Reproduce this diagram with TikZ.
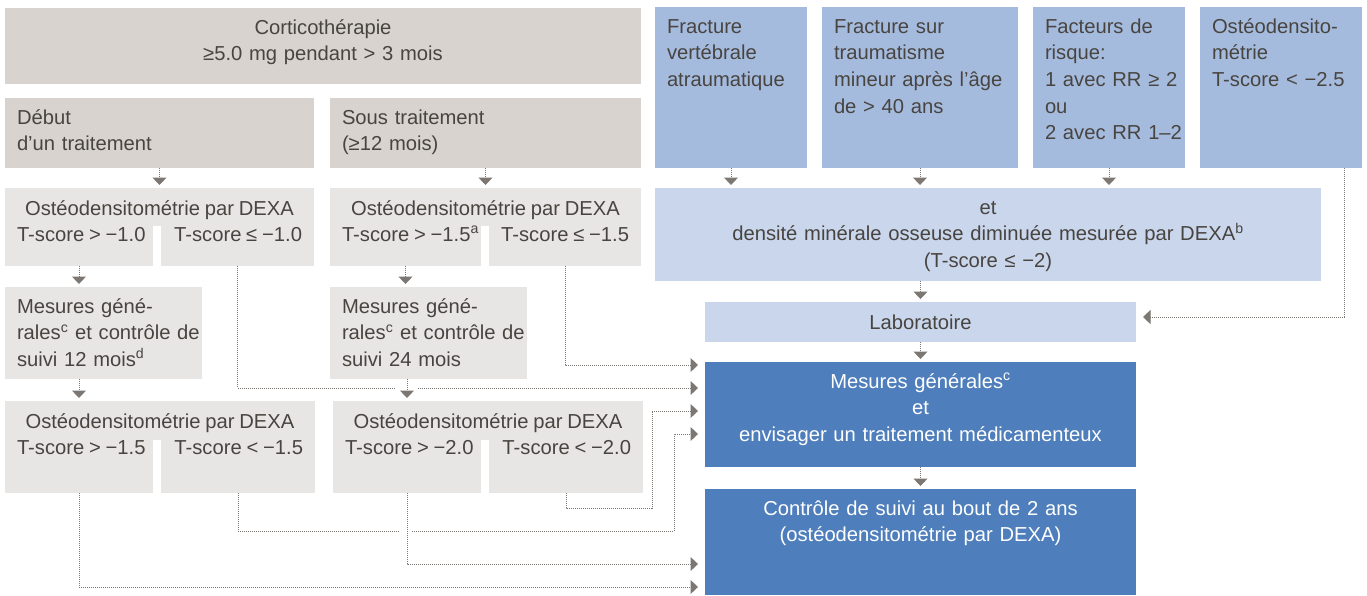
\documentclass[tikz,border=0pt]{standalone}
\usepackage{fontspec}
\setmainfont{Liberation Sans}[WordSpace=0.85]
\usetikzlibrary{arrows.meta}
\definecolor{grisfonce}{RGB}{216,211,207}
\definecolor{grisclair}{RGB}{232,230,228}
\definecolor{bleumoyen}{RGB}{165,187,222}
\definecolor{bleupale}{RGB}{201,214,236}
\definecolor{bleufonce}{RGB}{78,126,187}
\definecolor{encre}{RGB}{72,68,64}
\definecolor{pointille}{RGB}{124,119,114}
\tikzset{
  boite/.style={anchor=north west, inner sep=0pt, outer sep=0pt},
  texte/.style={inner xsep=12pt, inner ysep=0pt, outer sep=0pt, text height=26pt,
    text=encre, font=\fontsize{20.2}{26.7}\selectfont},
  agauche/.style={texte, anchor=north west, align=left, text width=400pt},
  centre/.style={texte, anchor=north, align=center, text width=#1},
  lien/.style={draw=pointille, line width=1pt, dash pattern=on 1pt off 1pt},
  vers/.style={lien, -{Triangle[length=7.5pt,width=14pt]}, shorten >=3pt},
  versbord/.style={vers, shorten >=7pt},
}
\begin{document}
\begin{tikzpicture}[x=1pt, y=-1pt]
\useasboundingbox (0,0) rectangle (1367,595) ;
% colonne de gauche
\node [boite, fill=grisfonce, minimum width=636pt, minimum height=76pt] (cortico) at (5,8) {} ;
\node [centre=612pt] (cortico-txt) at (cortico.north) {Corticothérapie\\≥5.0 mg pendant > 3 mois} ;
\node [boite, fill=grisfonce, minimum width=309pt, minimum height=70pt] (debut) at (5,98) {} ;
\node [agauche] (debut-txt) at (debut.north west) {Début\\d’un traitement} ;
\node [boite, fill=grisfonce, minimum width=311pt, minimum height=70pt] (sous) at (330,98) {} ;
\node [agauche] (sous-txt) at (sous.north west) {Sous traitement\\(≥12 mois)} ;
\node [boite, fill=grisclair, minimum width=148pt, minimum height=78pt] (o1g) at (5,188) {} ;
\node [boite, fill=grisclair, minimum width=153pt, minimum height=78pt] (o1d) at (161,188) {} ;
\node [boite, fill=grisclair, minimum width=309pt, minimum height=38pt] (o1t) at (5,188) {} ;
\node [texte, anchor=north, text height=27pt] (o1t-txt) at (o1t.north) {Ostéodensitométrie par DEXA} ;
\node [texte, anchor=north west, text height=53pt] (o1g-txt) at (o1g.north west) {T-score > −1.0} ;
\node [texte, anchor=north east, text height=53pt] (o1d-txt) at (o1d.north east) {T-score ≤ −1.0} ;
\node [boite, fill=grisclair, minimum width=151pt, minimum height=78pt] (o2g) at (330,188) {} ;
\node [boite, fill=grisclair, minimum width=152pt, minimum height=78pt] (o2d) at (489,188) {} ;
\node [boite, fill=grisclair, minimum width=311pt, minimum height=38pt] (o2t) at (330,188) {} ;
\node [texte, anchor=north, text height=27pt] (o2t-txt) at (o2t.north) {Ostéodensitométrie par DEXA} ;
\node [texte, anchor=north west, text height=53pt] (o2g-txt) at (o2g.north west) {T-score > −1.5\textsuperscript{a}} ;
\node [texte, anchor=north east, text height=53pt] (o2d-txt) at (o2d.north east) {T-score ≤ −1.5} ;
\node [boite, fill=grisclair, minimum width=197pt, minimum height=92pt] (m1) at (5,287) {} ;
\node [agauche] (m1-txt) at (m1.north west) {Mesures géné-\\rales\textsuperscript{c} et contrôle de\\suivi 12 mois\textsuperscript{d}} ;
\node [boite, fill=grisclair, minimum width=197pt, minimum height=92pt] (m2) at (330,287) {} ;
\node [agauche] (m2-txt) at (m2.north west) {Mesures géné-\\rales\textsuperscript{c} et contrôle de\\suivi 24 mois} ;
\node [boite, fill=grisclair, minimum width=148pt, minimum height=92pt] (o3g) at (5,401) {} ;
\node [boite, fill=grisclair, minimum width=154pt, minimum height=92pt] (o3d) at (161,401) {} ;
\node [boite, fill=grisclair, minimum width=310pt, minimum height=39pt] (o3t) at (5,401) {} ;
\node [texte, anchor=north, text height=27pt] (o3t-txt) at (o3t.north) {Ostéodensitométrie par DEXA} ;
\node [texte, anchor=north west, text height=53pt] (o3g-txt) at (o3g.north west) {T-score > −1.5} ;
\node [texte, anchor=north east, text height=53pt] (o3d-txt) at (o3d.north east) {T-score < −1.5} ;
\node [boite, fill=grisclair, minimum width=148pt, minimum height=92pt] (o4g) at (333,401) {} ;
\node [boite, fill=grisclair, minimum width=154pt, minimum height=92pt] (o4d) at (489,401) {} ;
\node [boite, fill=grisclair, minimum width=310pt, minimum height=39pt] (o4t) at (333,401) {} ;
\node [texte, anchor=north, text height=27pt] (o4t-txt) at (o4t.north) {Ostéodensitométrie par DEXA} ;
\node [texte, anchor=north west, text height=53pt] (o4g-txt) at (o4g.north west) {T-score > −2.0} ;
\node [texte, anchor=north east, text height=53pt] (o4d-txt) at (o4d.north east) {T-score < −2.0} ;
% colonne de droite
\node [boite, fill=bleumoyen, minimum width=152pt, minimum height=161pt] (f1) at (655,7) {} ;
\node [agauche] (f1-txt) at (f1.north west) {Fracture\\vertébrale\\atraumatique} ;
\node [boite, fill=bleumoyen, minimum width=196pt, minimum height=161pt] (f2) at (822,7) {} ;
\node [agauche] (f2-txt) at (f2.north west) {Fracture sur\\traumatisme\\mineur après l’âge\\de > 40 ans} ;
\node [boite, fill=bleumoyen, minimum width=152pt, minimum height=161pt] (f3) at (1033,7) {} ;
\node [agauche] (f3-txt) at (f3.north west) {Facteurs de\\risque:\\1 avec RR ≥ 2\\ou\\2 avec RR 1–2} ;
\node [boite, fill=bleumoyen, minimum width=162pt, minimum height=161pt] (f4) at (1200,7) {} ;
\node [agauche] (f4-txt) at (f4.north west) {Ostéodensito-\\métrie\\T-score < −2.5} ;
\node [boite, fill=bleupale, minimum width=666pt, minimum height=93pt] (et) at (655,188) {} ;
\node [centre=642pt] (et-txt) at (et.north) {et\\densité minérale osseuse diminuée mesurée par DEXA\textsuperscript{b}\\(T-score ≤ −2)} ;
\node [boite, fill=bleupale, minimum width=431pt, minimum height=40pt] (labo) at (705,302) {} ;
\node [texte, anchor=north, text height=27pt] (labo-txt) at (labo.north) {Laboratoire} ;
\node [boite, fill=bleufonce, minimum width=431pt, minimum height=105pt] (mg) at (705,362) {} ;
\node [centre=407pt, text=white] (mg-txt) at (mg.north) {Mesures générales\textsuperscript{c}\\et\\envisager un traitement médicamenteux} ;
\node [boite, fill=bleufonce, minimum width=431pt, minimum height=106pt] (ctrl) at (705,489) {} ;
\node [centre=407pt, text=white] (ctrl-txt) at (ctrl.north) {Contrôle de suivi au bout de 2 ans\\(ostéodensitométrie par DEXA)} ;
% points d'entree et coudes
\coordinate (e1) at (705,365) ;
\coordinate (e2) at (705,388) ;
\coordinate (e3) at (705,411) ;
\coordinate (e4) at (705,434) ;
\coordinate (c1) at (705,564) ;
\coordinate (c2) at (705,587) ;
\coordinate (g1a) at (394,388) ;
\coordinate (g1b) at (418,388) ;
\coordinate (g2a) at (400,531) ;
\coordinate (g2b) at (412,531) ;
\coordinate (k1) at (652,508) ;
\coordinate (k2) at (674,531) ;
% fleches
\draw [vers] (debut.south) -- (o1t.north) ;
\draw [vers] (sous.south) -- (o2t.north) ;
\draw [vers] (o1g.south) -- (o1g.south |- m1.north) ;
\draw [vers] (o2g.south) -- (o2g.south |- m2.north) ;
\draw [vers] (o3g.north |- m1.south) -- (o3g.north) ;
\draw [vers] (o4g.north |- m2.south) -- (o4g.north) ;
\draw [versbord] (o2d.south) |- (e1) ;
\draw [versbord] (o1d.south) |- (g1a) (g1b) -- (e2) ;
\draw [versbord] (o4d.south) |- (k1) |- (e3) ;
\draw [versbord] (o3d.south) |- (g2a) (g2b) -- (k2) |- (e4) ;
\draw [versbord] (o4g.south) |- (c1) ;
\draw [versbord] (o3g.south) |- (c2) ;
\draw [vers] (f1.south) -- (f1.south |- et.north) ;
\draw [vers] (f2.south) -- (f2.south |- et.north) ;
\draw [vers] (f3.south) -- (f3.south |- et.north) ;
\draw [versbord] ([xshift=-18pt]f4.south east) |- ([yshift=5pt]labo.east) ;
\draw [vers] (labo.north |- et.south) -- (labo.north) ;
\draw [vers] (labo.south) -- (mg.north) ;
\draw [vers] (mg.south) -- (ctrl.north) ;
\end{tikzpicture}
\end{document}
